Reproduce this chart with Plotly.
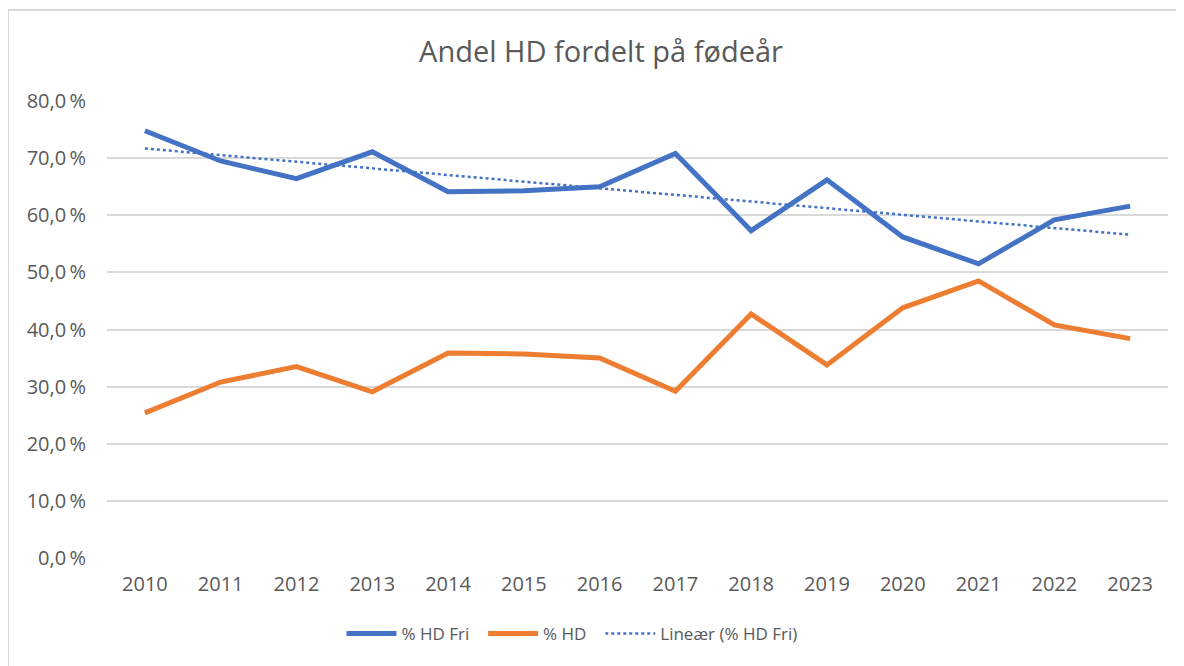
import numpy as np
import plotly.graph_objects as go

years = ["2010", "2011", "2012", "2013", "2014", "2015", "2016", "2017",
         "2018", "2019", "2020", "2021", "2022", "2023"]
hd_fri = [74.8, 69.5, 66.4, 71.1, 64.1, 64.3, 65.0, 70.8, 57.3, 66.2, 56.2, 51.5, 59.2, 61.6]
hd = [25.4, 30.8, 33.5, 29.1, 35.9, 35.7, 35.0, 29.2, 42.7, 33.8, 43.8, 48.5, 40.8, 38.4]
y_ticks = [0, 10, 20, 30, 40, 50, 60, 70, 80]
y_ticktext = ["0,0\u2009%", "10,0\u2009%", "20,0\u2009%", "30,0\u2009%", "40,0\u2009%",
              "50,0\u2009%", "60,0\u2009%", "70,0\u2009%", "80,0\u2009%"]

# Linear trendline (least squares) of % HD Fri, as Excel does
idx = np.arange(1, len(years) + 1)
slope, intercept = np.polyfit(idx, hd_fri, 1)
trend = slope * idx + intercept

GREY = "#595959"
FONT = "'Open Sans', sans-serif"

# page has an 8px body offset; plot area in the reference spans x 107..1168, y 101..558
OFF = 8
L, T, PW, PH = 107 - OFF, 101 - OFF, 1061, 457

fig = go.Figure()
fig.add_trace(go.Scatter(x=years, y=hd_fri, mode="lines", name="% HD Fri  ",
                         line=dict(color="#4472C4", width=5)))
fig.add_trace(go.Scatter(x=years, y=hd, mode="lines", name="% HD  ",
                         line=dict(color="#ED7D31", width=5)))
fig.add_trace(go.Scatter(x=years, y=trend, mode="lines", name="Lineær (% HD Fri)",
                         line=dict(color="#4472C4", width=2.5, dash="dot")))

fig.update_layout(
    width=1184, height=666,
    margin=dict(l=L, r=1184 - L - PW, t=T, b=666 - T - PH),
    paper_bgcolor="white", plot_bgcolor="white",
    font=dict(family=FONT, color=GREY, size=16),
    title=dict(text="Andel HD fordelt på fødeår", x=(601 - 107) / PW, xref="paper",
               xanchor="center", y=1 - (52 - OFF) / 666, yanchor="middle",
               font=dict(size=29, color=GREY, family=FONT)),
    showlegend=True,
    legend=dict(orientation="h", x=(572 - 107) / PW, xanchor="center",
                y=(558 - 634) / PH, yanchor="middle",
                font=dict(size=17, color=GREY), itemwidth=50),
    xaxis=dict(type="category", range=[-0.5, 13.5], showgrid=False,
               showline=False, ticks="", tickfont=dict(size=20, color=GREY),
               ticklabelstandoff=12),
    yaxis=dict(range=[0, 80], tickvals=y_ticks, ticktext=y_ticktext,
               showgrid=True, gridcolor="#d9d9d9", gridwidth=1.5,
               zeroline=False, showline=False, ticks="",
               tickfont=dict(size=20, color=GREY), ticklabelstandoff=20),
    shapes=[dict(type="rect", xref="paper", yref="paper",
                 x0=(8 - 107) / PW, x1=1.5, y0=-1, y1=(558 - 10) / PH,
                 line=dict(color="#d9d9d9", width=2), layer="below")],
)

fig.write_html("out.html")
